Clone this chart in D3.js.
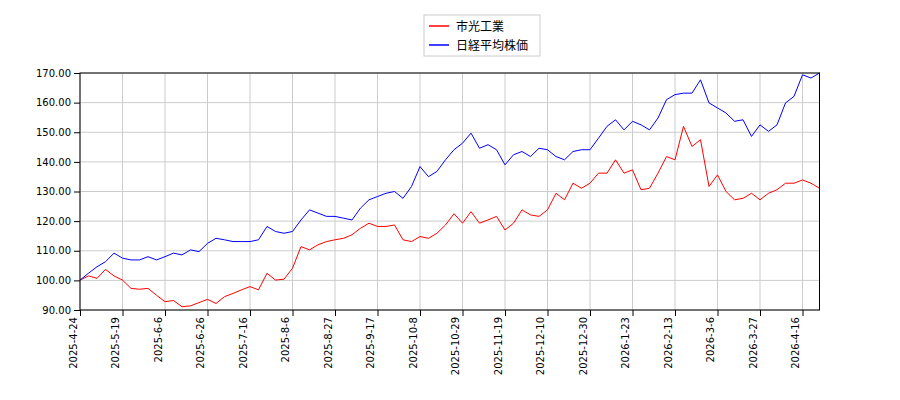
<!DOCTYPE html>
<html>
<head>
<meta charset="utf-8">
<script src="https://cdn.jsdelivr.net/npm/d3@7"></script>
<style>
body { margin: 0; background: #fff; font-family: "DejaVu Sans", sans-serif; }
.grid line { stroke: #cccccc; }
</style>
</head>
<body>
<div id="vis-container"></div>
<script>
// tick labels, one every 15 trading days
var tickLabels = ["2025-4-24", "2025-5-19", "2025-6-6", "2025-6-26", "2025-7-16", "2025-8-6",
	"2025-8-27", "2025-9-17", "2025-10-8", "2025-10-29", "2025-11-19", "2025-12-10",
	"2025-12-30", "2026-1-23", "2026-2-13", "2026-3-6", "2026-3-27", "2026-4-16"];

// values sampled every 3 trading days
var step = 3;
var lastIndex = 261;

var mitsuboshi = [100.1, 101.5, 100.7, 103.7, 101.5, 100.1, 97.3, 97, 97.3, 95, 92.8, 93.2, 91.1, 91.4, 92.5,
	93.6, 92.2, 94.5, 95.6, 96.8, 97.9, 96.8, 102.4, 100.1, 100.4, 104.1, 111.4, 110.3, 112, 113.1,
	113.7, 114.2, 115.4, 117.6, 119.3, 118.2, 118.2, 118.7, 113.7, 113.1, 114.8, 114.2, 115.9, 118.7, 122.5,
	119.3, 123.2, 119.3, 120.4, 121.6, 117, 119.3, 123.8, 122.1, 121.6, 123.8, 129.4, 127.2, 132.8, 131.1,
	132.8, 136.2, 136.2, 140.7, 136.2, 137.3, 130.6, 131.1, 136.2, 141.8, 140.7, 152, 145.2, 147.5, 131.7,
	135.6, 130, 127.2, 127.7, 129.4, 127.2, 129.4, 130.6, 132.8, 132.8, 133.9, 132.8, 131.1];

var nikkei = [100.1, 102.4, 104.6, 106.3, 109.2, 107.5, 106.9, 106.9, 108, 106.9, 108, 109.2, 108.6, 110.3, 109.7,
	112.5, 114.2, 113.7, 113.1, 113.1, 113.1, 113.7, 118.2, 116.5, 115.9, 116.5, 120.4, 123.8, 122.7, 121.6,
	121.6, 121, 120.4, 124.4, 127.2, 128.3, 129.4, 130, 127.7, 131.7, 138.4, 135, 136.8, 140.7, 144.1,
	146.3, 149.7, 144.6, 145.8, 144.1, 139, 142.4, 143.5, 141.8, 144.6, 144.1, 141.8, 140.7, 143.5, 144.1,
	144.1, 148, 152, 154.2, 150.8, 153.7, 152.5, 150.8, 154.8, 161, 162.7, 163.2, 163.2, 167.7, 159.9,
	158.2, 156.5, 153.7, 154.2, 148.6, 152.5, 150.3, 152.5, 159.9, 162.1, 169.4, 168.3, 170];

var yTicks = [90, 100, 110, 120, 130, 140, 150, 160, 170];

var svg = d3.select("#vis-container")
	.append("svg")
	.attr("width", 900)
	.attr("height", 400);

var plotLeft = 80, plotRight = 819.5, plotTop = 73, plotBottom = 310;

var xscale = d3.scaleLinear().domain([0, lastIndex]).range([plotLeft, plotRight]);
var yscale = d3.scaleLinear().domain([90, 170]).range([plotBottom, plotTop]);

var tickIdx = tickLabels.map(function(d, i) { return i * 15; });

// grid
var grid = svg.append("g").attr("class", "grid");
grid.selectAll(".gx").data(tickIdx).enter().append("line")
	.attr("x1", function(d) { return xscale(d); })
	.attr("x2", function(d) { return xscale(d); })
	.attr("y1", plotTop).attr("y2", plotBottom);
grid.selectAll(".gy").data(yTicks).enter().append("line")
	.attr("x1", plotLeft).attr("x2", plotRight)
	.attr("y1", function(d) { return yscale(d); })
	.attr("y2", function(d) { return yscale(d); });

var line = d3.line()
	.x(function(d, i) { return xscale(i * step); })
	.y(function(d) { return yscale(d); });

svg.append("path").datum(mitsuboshi)
	.attr("d", line).attr("fill", "none").attr("stroke", "red").attr("stroke-width", 1);
svg.append("path").datum(nikkei)
	.attr("d", line).attr("fill", "none").attr("stroke", "blue").attr("stroke-width", 1);

// frame
svg.append("rect")
	.attr("x", plotLeft).attr("y", plotTop)
	.attr("width", plotRight - plotLeft).attr("height", plotBottom - plotTop)
	.attr("fill", "none").attr("stroke", "black");

var xaxis = d3.axisBottom(xscale).tickValues(tickIdx)
	.tickFormat(function(d, i) { return tickLabels[i]; }).tickSizeOuter(0);
var xaxisg = svg.append("g")
	.attr("transform", "translate(0," + plotBottom + ")")
	.call(xaxis);
xaxisg.select(".domain").remove();
xaxisg.selectAll("text")
	.attr("transform", "rotate(-90)")
	.attr("x", -7).attr("y", -4).attr("dy", 0)
	.style("text-anchor", "end")
	.style("font-family", "DejaVu Sans").style("font-size", "10px");

var yaxis = d3.axisLeft(yscale).tickValues(yTicks).tickFormat(d3.format(".2f")).tickSizeOuter(0);
var yaxisg = svg.append("g")
	.attr("transform", "translate(" + plotLeft + ",0)")
	.call(yaxis);
yaxisg.select(".domain").remove();
yaxisg.selectAll("text").style("font-family", "DejaVu Sans").style("font-size", "10px");

// legend
var legend = svg.append("g").attr("transform", "translate(424,15)");
legend.append("rect").attr("width", 116).attr("height", 41)
	.attr("fill", "white").attr("stroke", "#cccccc");
var series = [["市光工業", "red"], ["日経平均株価", "blue"]];
series.forEach(function(s, i) {
	legend.append("line").attr("x1", 5).attr("x2", 25)
		.attr("y1", 11 + i * 19).attr("y2", 11 + i * 19)
		.attr("stroke", s[1]).attr("stroke-width", 1.5);
	legend.append("text").attr("x", 32).attr("y", 15.5 + i * 19)
		.style("font-size", "12px").style("font-family", "Noto Sans CJK JP")
		.text(s[0]);
});
</script>
</body>
</html>
